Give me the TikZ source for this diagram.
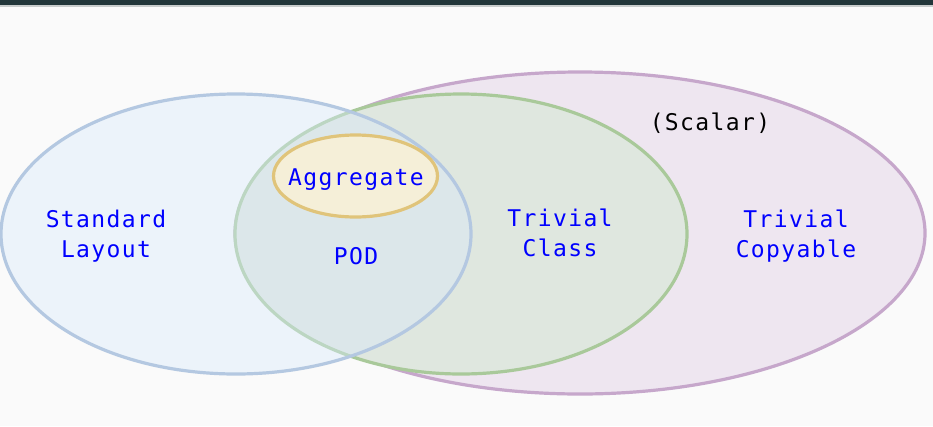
\documentclass[tikz,border=0pt]{standalone}
\usepackage{fontspec}
\newfontfamily\vennmono[LetterSpace=6]{DejaVu Sans Mono}
\definecolor{bgc}{HTML}{FAFAFA}
\definecolor{barc}{HTML}{22363A}
\definecolor{barline}{HTML}{C8CCCC}
\definecolor{purfill}{HTML}{EEE6F0}
\definecolor{purline}{HTML}{C6A7CB}
\definecolor{grnfill}{HTML}{DFE7DF}
\definecolor{grnline}{HTML}{A9C99A}
\definecolor{blufill}{HTML}{D8E9FC}
\definecolor{bluline}{HTML}{B4C8E1}
\definecolor{yelfill}{HTML}{F5EFD8}
\definecolor{yelline}{HTML}{E0C47A}
\definecolor{txtblue}{HTML}{0000FF}
\tikzset{
  vennset/.style={line width=3.2pt},
  lbl/.style={font=\vennmono\fontsize{23}{30}\selectfont, text=txtblue, align=center, inner sep=0pt},
  blk/.style={lbl, text=black}
}
\begin{document}
\begin{tikzpicture}[x=1pt,y=-1pt]
\fill[bgc] (0,0) rectangle (933,426);
\useasboundingbox (0,0) rectangle (933,426);
\fill[barc] (0,0) rectangle (933,5);
\fill[barline] (0,5) rectangle (933,6.5);
% purple (Trivially copyable)
\draw[vennset, draw=purline, fill=purfill] (580,233) ellipse [x radius=345, y radius=161];
% green (Trivial class)
\draw[vennset, draw=grnline, fill=grnfill] (461,234) ellipse [x radius=226, y radius=140];
% blue (Standard layout)
\draw[vennset, draw=bluline, fill=blufill, fill opacity=0.41] (236,234) ellipse [x radius=235, y radius=140];
% yellow (Aggregate)
\draw[vennset, draw=yelline, fill=yelfill] (355.5,176) ellipse [x radius=82, y radius=41];
% labels
\node[lbl] (std) at (106,236) {Standard\\Layout};
\node[lbl] (agg) at (356,180) {Aggregate};
\node[lbl] (pod) at (356,256) {POD};
\node[lbl] (tc) at (560,233) {Trivial\\Class};
\node[lbl] (tcp) at (796,236) {Trivial\\Copyable};
\node[blk] (sc) at (710,123) {(Scalar)};
\end{tikzpicture}
\end{document}
